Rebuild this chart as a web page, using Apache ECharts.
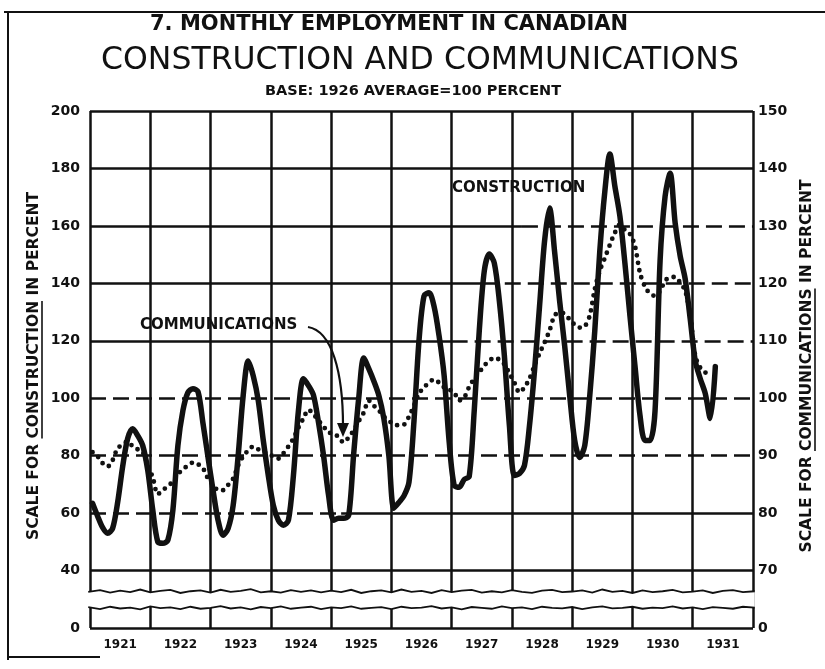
<!DOCTYPE html>
<html>
<head>
<meta charset="utf-8">
<script src="https://cdn.jsdelivr.net/npm/echarts@6/dist/echarts.min.js"></script>
<style>html,body{margin:0;padding:0;background:#fff}#c{width:825px;height:669px}</style>
</head>
<body>
<div id="c"></div>
<script>
// ---------- DATA ----------
const YEARS = ['1921','1922','1923','1924','1925','1926','1927','1928','1929','1930','1931'];

// Construction index (left scale), monthly from Jan 1921
const CONSTRUCTION = [
  63.4, 59, 55, 53, 54.7, 63.7, 76.2, 86, 89.4, 87, 83.5, 74.9,
  61, 50, 49.5, 50.6, 61, 83.5, 95.7, 102, 103.3, 102.3, 91.2, 79.4,
  67.9, 57.5, 52.3, 54.7, 62.7, 80, 101, 113, 107.8, 99.2, 85.3, 73.1,
  62.7, 57.5, 55.8, 57.5, 73.1, 95.7, 106.8, 104.4, 101, 91.5, 80, 66.2,
  57.5, 58.2, 58.2, 59.2, 80.7, 100, 114, 110.3, 106, 101, 93, 80,
  61.7, 63.7, 66, 70.7, 92, 120, 135.6, 136.7, 132, 121.7, 108, 85,
  69.7, 69, 71.7, 72.8, 95.7, 123.5, 144.3, 150.2, 147, 133.9, 114.8, 90.5,
  73.1, 73.8, 76.6, 90.5, 109.6, 132, 154.7, 166.2, 151, 133.9, 118.3, 101,
  85.3, 79.4, 83.5, 100.9, 123.5, 151.3, 172, 185, 173.8, 163.4, 147, 128.7,
  111.3, 94, 85.3, 85.3, 95.7, 147.8, 170.3, 178.3, 161, 149.5, 141.5, 127.6,
  113, 106.8, 101.6, 92.9, 111
];

// Communications index (right scale), monthly from Jan 1921
const COMMUNICATIONS = [
  90.6, 89.9, 88.7, 88.1, 89.2, 91.3, 91.9, 92.5, 91.6, 91.1, 90.6, 88.3,
  86.2, 83.3, 84.0, 84.7, 85.5, 86.8, 87.6, 88.3, 88.8, 88.5, 87.8, 86.0,
  85.0, 84.0, 84.0, 84.9, 86.0, 88.3, 89.9, 90.9, 91.6, 91.1, 90.8, 90.2,
  89.9, 89.5, 90.4, 91.6, 93.0, 94.9, 96.5, 98.0, 97.2, 96.1, 95.1, 94.0,
  93.9, 93.2, 92.3, 93.2, 94.4, 96.0, 97.5, 99.6, 98.7, 97.9, 96.8, 96.1,
  95.4, 95.3, 95.4, 96.8, 98.7, 100.8, 101.9, 102.7, 103.3, 102.7, 101.9, 101.5,
  101.0, 99.6, 100.1, 102.0, 103.4, 104.5, 105.7, 106.5, 107.1, 106.7, 105.9, 104.3,
  102.7, 101.0, 101.9, 103.4, 105.7, 107.8, 109.7, 111.8, 114.4, 114.9, 114.7, 113.7,
  112.8, 112.3, 112.5, 114.4, 119.0, 122.2, 124.4, 126.7, 128.8, 130.2, 129.3, 128.6,
  126.5, 121.8, 119.4, 118.2, 117.8, 118.7, 120.4, 121.1, 121.1, 120.1, 118.7, 114.4,
  107.4, 105.3, 104.5, 103.6
];

// Axis ticks (broken scale: lowest tick is labelled 0)
const LEFT_TICK_VALUES = [20, 40, 60, 80, 100, 120, 140, 160, 180, 200];
const LEFT_TICK_LABELS = ['0', '40', '60', '80', '100', '120', '140', '160', '180', '200'];
const RIGHT_TICK_VALUES = [60, 70, 80, 90, 100, 110, 120, 130, 140, 150];
const RIGHT_TICK_LABELS = ['0', '70', '80', '90', '100', '110', '120', '130', '140', '150'];

// Scale-break wiggles (left scale units), one point every two months
const BREAK_UPPER = [
  32.6,33.2,32.3,33.0,32.5,33.4,32.4,32.9,33.3,32.2,
  32.8,33.1,32.3,33.3,32.6,32.9,33.5,32.4,32.8,32.3,
  33.2,32.6,33.1,32.4,33.0,32.5,33.3,32.2,32.8,33.1,
  32.4,33.4,32.6,32.9,32.2,33.2,32.5,33.0,33.3,32.3,
  32.8,32.4,33.2,32.6,32.2,33.0,33.3,32.5,32.7,33.1,
  32.3,33.4,32.6,32.9,32.2,33.1,32.5,32.8,33.3,32.4,
  32.7,33.1,32.2,32.9,33.2,32.5,32.8
];
const BREAK_LOWER = [
  27.3,26.6,27.4,26.8,27.1,26.5,27.5,26.9,27.2,26.6,
  27.4,26.7,27.0,27.6,26.8,27.2,26.5,27.3,26.9,27.5,
  26.7,27.1,27.4,26.6,27.2,26.9,27.5,26.7,27.0,27.3,
  26.6,27.4,26.9,27.1,27.6,26.8,27.2,26.5,27.3,27.0,
  26.7,27.5,26.9,27.2,26.6,27.4,27.0,26.8,27.3,26.6,
  27.2,27.5,26.8,27.0,27.4,26.7,27.1,26.9,27.5,26.8,
  27.2,26.6,27.3,27.0,26.7,27.4,27.1
];

// ---------- BUILD ----------
const NMONTHS = YEARS.length * 12;
const monthPairs = arr => arr.map((v, i) => [i + 0.5, v]);
const breakX = k => (k === 0 ? -0.35 : (k === BREAK_UPPER.length - 1 ? NMONTHS + 0.35 : k * 2));

const FONT = '"DejaVu Sans", "Liberation Sans", sans-serif';
const INK = '#111';

function gridLine(v, x0, x1, dashed) {
  return [
    { coord: [x0, v], lineStyle: { type: dashed ? [16, 7] : 'solid', width: 2.5, color: INK } },
    { coord: [x1, v] }
  ];
}
const hLines = [
  gridLine(20, 0, NMONTHS, false),
  gridLine(40, 0, NMONTHS, false),
  gridLine(60, 0, 50, true), gridLine(60, 50, NMONTHS, false),
  gridLine(80, 0, NMONTHS, true),
  gridLine(100, 0, NMONTHS, true),
  gridLine(120, 0, 72, false), gridLine(120, 72, NMONTHS, true),
  gridLine(140, 0, 78, false), gridLine(140, 78, NMONTHS, true),
  gridLine(160, 0, 86, false), gridLine(160, 86, NMONTHS, true),
  gridLine(180, 0, NMONTHS, false),
  gridLine(200, 0, NMONTHS, false)
];

const measureCtx = document.createElement('canvas').getContext('2d');
function tw(str, font) { measureCtx.font = font; return measureCtx.measureText(str).width; }

function verticalName(x, y, pre, under, post) {
  const font = 'bold 15.5px ' + FONT;
  const full = pre + under + post;
  const W = tw(full, font);
  const u0 = -W / 2 + tw(pre, font);
  const u1 = u0 + tw(under, font);
  return {
    type: 'group', x: x, y: y, rotation: Math.PI / 2,
    children: [
      { type: 'text', style: { text: full, x: 0, y: 0, font: font, fill: INK,
          textAlign: 'center', textVerticalAlign: 'middle', verticalAlign: 'middle' } },
      { type: 'line', shape: { x1: u0, y1: 8, x2: u1, y2: 8 }, style: { stroke: INK, lineWidth: 1.6 } }
    ]
  };
}

function renderBreak(params, api) {
  const up = BREAK_UPPER.map((v, k) => api.coord([breakX(k), v]));
  const lo = BREAK_LOWER.map((v, k) => api.coord([breakX(k), v]));
  return {
    type: 'group',
    children: [
      { type: 'polygon', shape: { points: up.concat(lo.slice().reverse()) }, style: { fill: '#fff' } },
      { type: 'polyline', shape: { points: up }, style: { stroke: INK, lineWidth: 1.8, fill: null } },
      { type: 'polyline', shape: { points: lo }, style: { stroke: INK, lineWidth: 1.8, fill: null } }
    ]
  };
}

const chart = echarts.init(document.getElementById('c'), null, { renderer: 'canvas' });
chart.setOption({
  animation: false,
  backgroundColor: '#fff',
  grid: { left: 90, right: 72, top: 111, bottom: 41 },
  xAxis: [
    { type: 'value', min: 0, max: NMONTHS, interval: 12,
      axisLine: { show: false }, axisTick: { show: false }, axisLabel: { show: false },
      splitLine: { show: true, lineStyle: { color: INK, width: 2.5 } } },
    { type: 'category', data: YEARS, position: 'bottom', boundaryGap: true,
      axisLine: { show: false }, axisTick: { show: false }, splitLine: { show: false },
      axisLabel: { color: INK, fontFamily: FONT, fontWeight: 'bold', fontSize: 12, margin: 11 } }
  ],
  yAxis: [
    { type: 'value', min: 20, max: 200, interval: 20, position: 'left',
      axisLine: { show: false }, axisTick: { show: false }, splitLine: { show: false },
      axisLabel: { color: INK, fontFamily: FONT, fontWeight: 'bold', fontSize: 14, margin: 10,
        formatter: v => LEFT_TICK_LABELS[LEFT_TICK_VALUES.indexOf(v)] } },
    { type: 'value', min: 60, max: 150, interval: 10, position: 'right',
      axisLine: { show: false }, axisTick: { show: false }, splitLine: { show: false },
      axisLabel: { color: INK, fontFamily: FONT, fontWeight: 'bold', fontSize: 14, margin: 5,
        formatter: v => RIGHT_TICK_LABELS[RIGHT_TICK_VALUES.indexOf(v)] } }
  ],
  series: [
    { name: 'grid', type: 'line', data: [], z: 2, silent: true,
      markLine: { silent: true, symbol: ['none', 'none'], label: { show: false }, animation: false, data: hLines } },
    { name: 'break', type: 'custom', coordinateSystem: 'cartesian2d', xAxisIndex: 0, yAxisIndex: 0,
      data: [[0, 30]], z: 3, silent: true, clip: false, renderItem: renderBreak },
    { name: 'Communications', type: 'line', yAxisIndex: 1, data: monthPairs(COMMUNICATIONS), z: 5,
      showSymbol: false, symbol: 'none', smooth: 0.3,
      lineStyle: { color: INK, width: 4.8, type: [0, 7.5], cap: 'round' } },
    { name: 'Construction', type: 'line', data: monthPairs(CONSTRUCTION), z: 6,
      showSymbol: false, symbol: 'none', smooth: 0.3,
      lineStyle: { color: INK, width: 5.5, cap: 'round', join: 'round' } }
  ],
  graphic: [
    // frame
    { type: 'line', shape: { x1: 4, y1: 12, x2: 825, y2: 12 }, style: { stroke: INK, lineWidth: 2 } },
    { type: 'line', shape: { x1: 8, y1: 12, x2: 8, y2: 660 }, style: { stroke: INK, lineWidth: 2 } },
    { type: 'line', shape: { x1: 8, y1: 657, x2: 100, y2: 657 }, style: { stroke: INK, lineWidth: 2 } },
    // titles
    { type: 'text', style: { text: '7. MONTHLY EMPLOYMENT IN CANADIAN', x: 389, y: 25, font: 'bold 21px ' + FONT,
        fill: INK, textAlign: 'center', textVerticalAlign: 'middle', verticalAlign: 'middle' } },
    { type: 'text', style: { text: 'CONSTRUCTION AND COMMUNICATIONS', x: 420, y: 61, font: '31.5px ' + FONT,
        fill: INK, textAlign: 'center', textVerticalAlign: 'middle', verticalAlign: 'middle' } },
    { type: 'text', style: { text: 'BASE: 1926 AVERAGE=100 PERCENT', x: 413, y: 91, font: 'bold 14.5px ' + FONT,
        fill: INK, textAlign: 'center', textVerticalAlign: 'middle', verticalAlign: 'middle' } },
    // annotations
    { type: 'text', style: { text: 'CONSTRUCTION', x: 452, y: 188, font: 'bold 15px ' + FONT,
        fill: INK, textAlign: 'left', textVerticalAlign: 'middle', verticalAlign: 'middle' } },
    { type: 'text', style: { text: 'COMMUNICATIONS', x: 140, y: 325, font: 'bold 15px ' + FONT,
        fill: INK, textAlign: 'left', textVerticalAlign: 'middle', verticalAlign: 'middle' } },
    { type: 'bezierCurve', shape: { x1: 308, y1: 327, cpx1: 332, cpy1: 331, cpx2: 343, cpy2: 372, x2: 343, y2: 426 },
      style: { stroke: INK, lineWidth: 2.2, fill: null } },
    { type: 'polygon', shape: { points: [[337, 423], [349, 423], [343, 437]] }, style: { fill: INK } },
    // axis names
    verticalName(34, 366, 'SCALE FOR ', 'CONSTRUCTION', ' IN PERCENT'),
    verticalName(807, 366, 'SCALE FOR ', 'COMMUNICATIONS', ' IN PERCENT')
  ]
});
</script>
</body>
</html>
